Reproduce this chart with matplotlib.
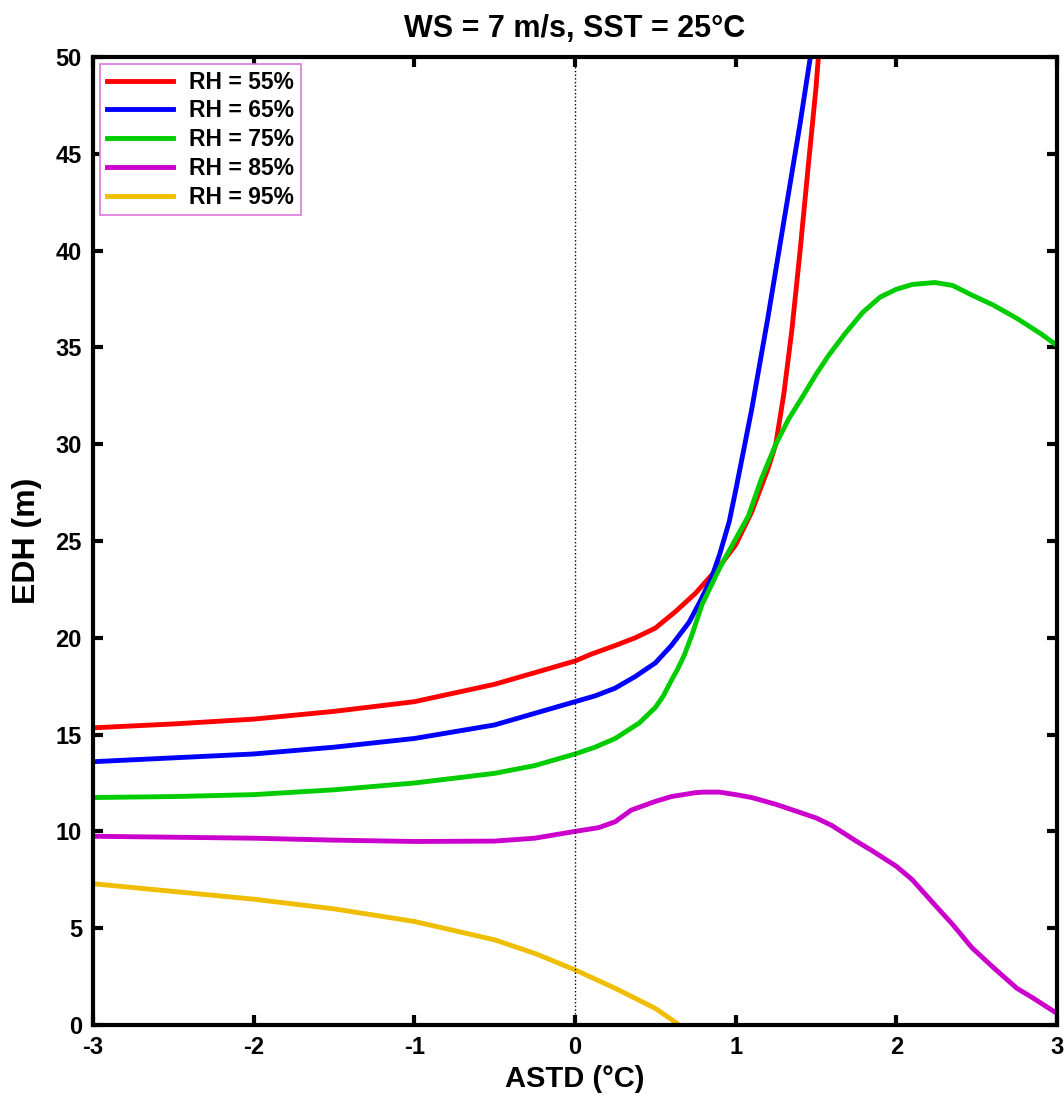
import matplotlib
matplotlib.use("Agg")
import matplotlib.pyplot as plt

plt.rcParams["font.family"] = ["Liberation Sans", "DejaVu Sans"]
plt.rcParams["font.weight"] = "bold"
plt.rcParams["axes.unicode_minus"] = False

# ASTD (deg C) vs EDH (m)
x_rh55 = [-3, -2.5, -2, -1.5, -1, -0.5, 0, 0.1, 0.25, 0.375, 0.5, 0.625, 0.75, 0.9,
          1.0, 1.1, 1.2, 1.25, 1.3, 1.35, 1.4, 1.45, 1.5, 1.515]
y_rh55 = [15.35, 15.55, 15.8, 16.2, 16.7, 17.6, 18.8, 19.15, 19.6, 20.0, 20.5, 21.35,
          22.3, 23.7, 24.8, 26.5, 28.7, 30.0, 32.6, 35.9, 39.9, 44.2, 48.4, 50.0]

x_rh65 = [-3, -2.5, -2, -1.5, -1, -0.5, 0, 0.125, 0.25, 0.375, 0.5, 0.6, 0.71, 0.78,
          0.85, 0.9, 0.96, 1.0, 1.1, 1.2, 1.3, 1.4, 1.465]
y_rh65 = [13.6, 13.8, 14.0, 14.35, 14.8, 15.5, 16.7, 17.0, 17.4, 18.0, 18.7, 19.6,
          20.8, 21.9, 23.1, 24.3, 26.0, 27.6, 31.8, 36.5, 41.5, 46.5, 50.0]

x_rh75 = [-3, -2.5, -2, -1.5, -1, -0.5, -0.25, 0, 0.125, 0.25, 0.4, 0.5, 0.55, 0.6,
          0.64, 0.68, 0.73, 0.79, 0.9, 1.0, 1.08, 1.16, 1.25, 1.33, 1.42, 1.5, 1.58,
          1.68, 1.79, 1.9, 2.0, 2.1, 2.24, 2.35, 2.47, 2.6, 2.75, 2.9, 3.0]
y_rh75 = [11.75, 11.8, 11.9, 12.15, 12.5, 13.0, 13.4, 14.0, 14.35, 14.8, 15.6, 16.4,
          17.0, 17.8, 18.4, 19.1, 20.2, 21.7, 23.6, 25.1, 26.3, 28.2, 30.0, 31.3,
          32.5, 33.6, 34.6, 35.7, 36.8, 37.6, 38.0, 38.25, 38.35, 38.2, 37.7, 37.2,
          36.5, 35.7, 35.1]

x_rh85 = [-3, -2.5, -2, -1.5, -1, -0.5, -0.25, 0, 0.15, 0.25, 0.35, 0.5, 0.6, 0.75,
          0.8, 0.9, 1.0, 1.1, 1.25, 1.5, 1.6, 1.75, 1.85, 2.0, 2.1, 2.24, 2.35, 2.47,
          2.6, 2.75, 2.85, 3.0]
y_rh85 = [9.75, 9.7, 9.65, 9.55, 9.48, 9.5, 9.65, 10.0, 10.2, 10.5, 11.1, 11.55,
          11.8, 12.0, 12.03, 12.03, 11.9, 11.75, 11.4, 10.7, 10.3, 9.5, 9.0, 8.2, 7.5,
          6.2, 5.2, 4.0, 3.0, 1.9, 1.4, 0.6]

x_rh95 = [-3, -2.5, -2, -1.5, -1, -0.5, -0.25, 0, 0.25, 0.5, 0.65]
y_rh95 = [7.3, 6.9, 6.5, 6.0, 5.35, 4.4, 3.7, 2.85, 1.9, 0.86, 0.0]

labels = ["RH = 55%", "RH = 65%", "RH = 75%", "RH = 85%", "RH = 95%"]
colors = ["#FF0000", "#0000FF", "#00CC00", "#CC00CC", "#EFBE00"]

fig = plt.figure(figsize=(10.64, 10.97), dpi=100)
ax = fig.add_axes([0.0874, 0.0656, 0.906, 0.8825])

series = [(x_rh55, y_rh55), (x_rh65, y_rh65), (x_rh75, y_rh75),
          (x_rh85, y_rh85), (x_rh95, y_rh95)]
for (xs, ys), lab, col in zip(series, labels, colors):
    ax.plot(xs, ys, color=col, lw=3.5, label=lab, solid_joinstyle="round")

ax.axvline(0, color="k", ls=":", lw=1)

ax.set_xlim(-3, 3)
ax.set_ylim(0, 50)
ax.set_xticks(range(-3, 4))
ax.set_yticks(range(0, 51, 5))
ax.tick_params(direction="in", length=7, width=3, top=True, right=True,
               labelsize=17, pad=8)
for lbl in ax.get_xticklabels() + ax.get_yticklabels():
    lbl.set_fontweight("bold")
for sp in ax.spines.values():
    sp.set_linewidth(3)

ax.set_xlabel("ASTD (°C)", fontsize=21, fontweight="bold", labelpad=4)
ax.set_ylabel("EDH (m)", fontsize=23, fontweight="bold", labelpad=10)
ax.set_title("WS = 7 m/s, SST = 25°C", fontsize=22, fontweight="bold", pad=14)

leg = ax.legend(loc="upper left", fontsize=16.5, handlelength=2.9,
                handletextpad=0.7, labelspacing=0.25, borderaxespad=0.3,
                fancybox=False, framealpha=1, borderpad=0.3)
leg.get_frame().set_edgecolor("#DD77DD")
leg.get_frame().set_linewidth(1.2)
for t in leg.get_texts():
    t.set_fontweight("bold")

fig.savefig("out.png", dpi=100)
